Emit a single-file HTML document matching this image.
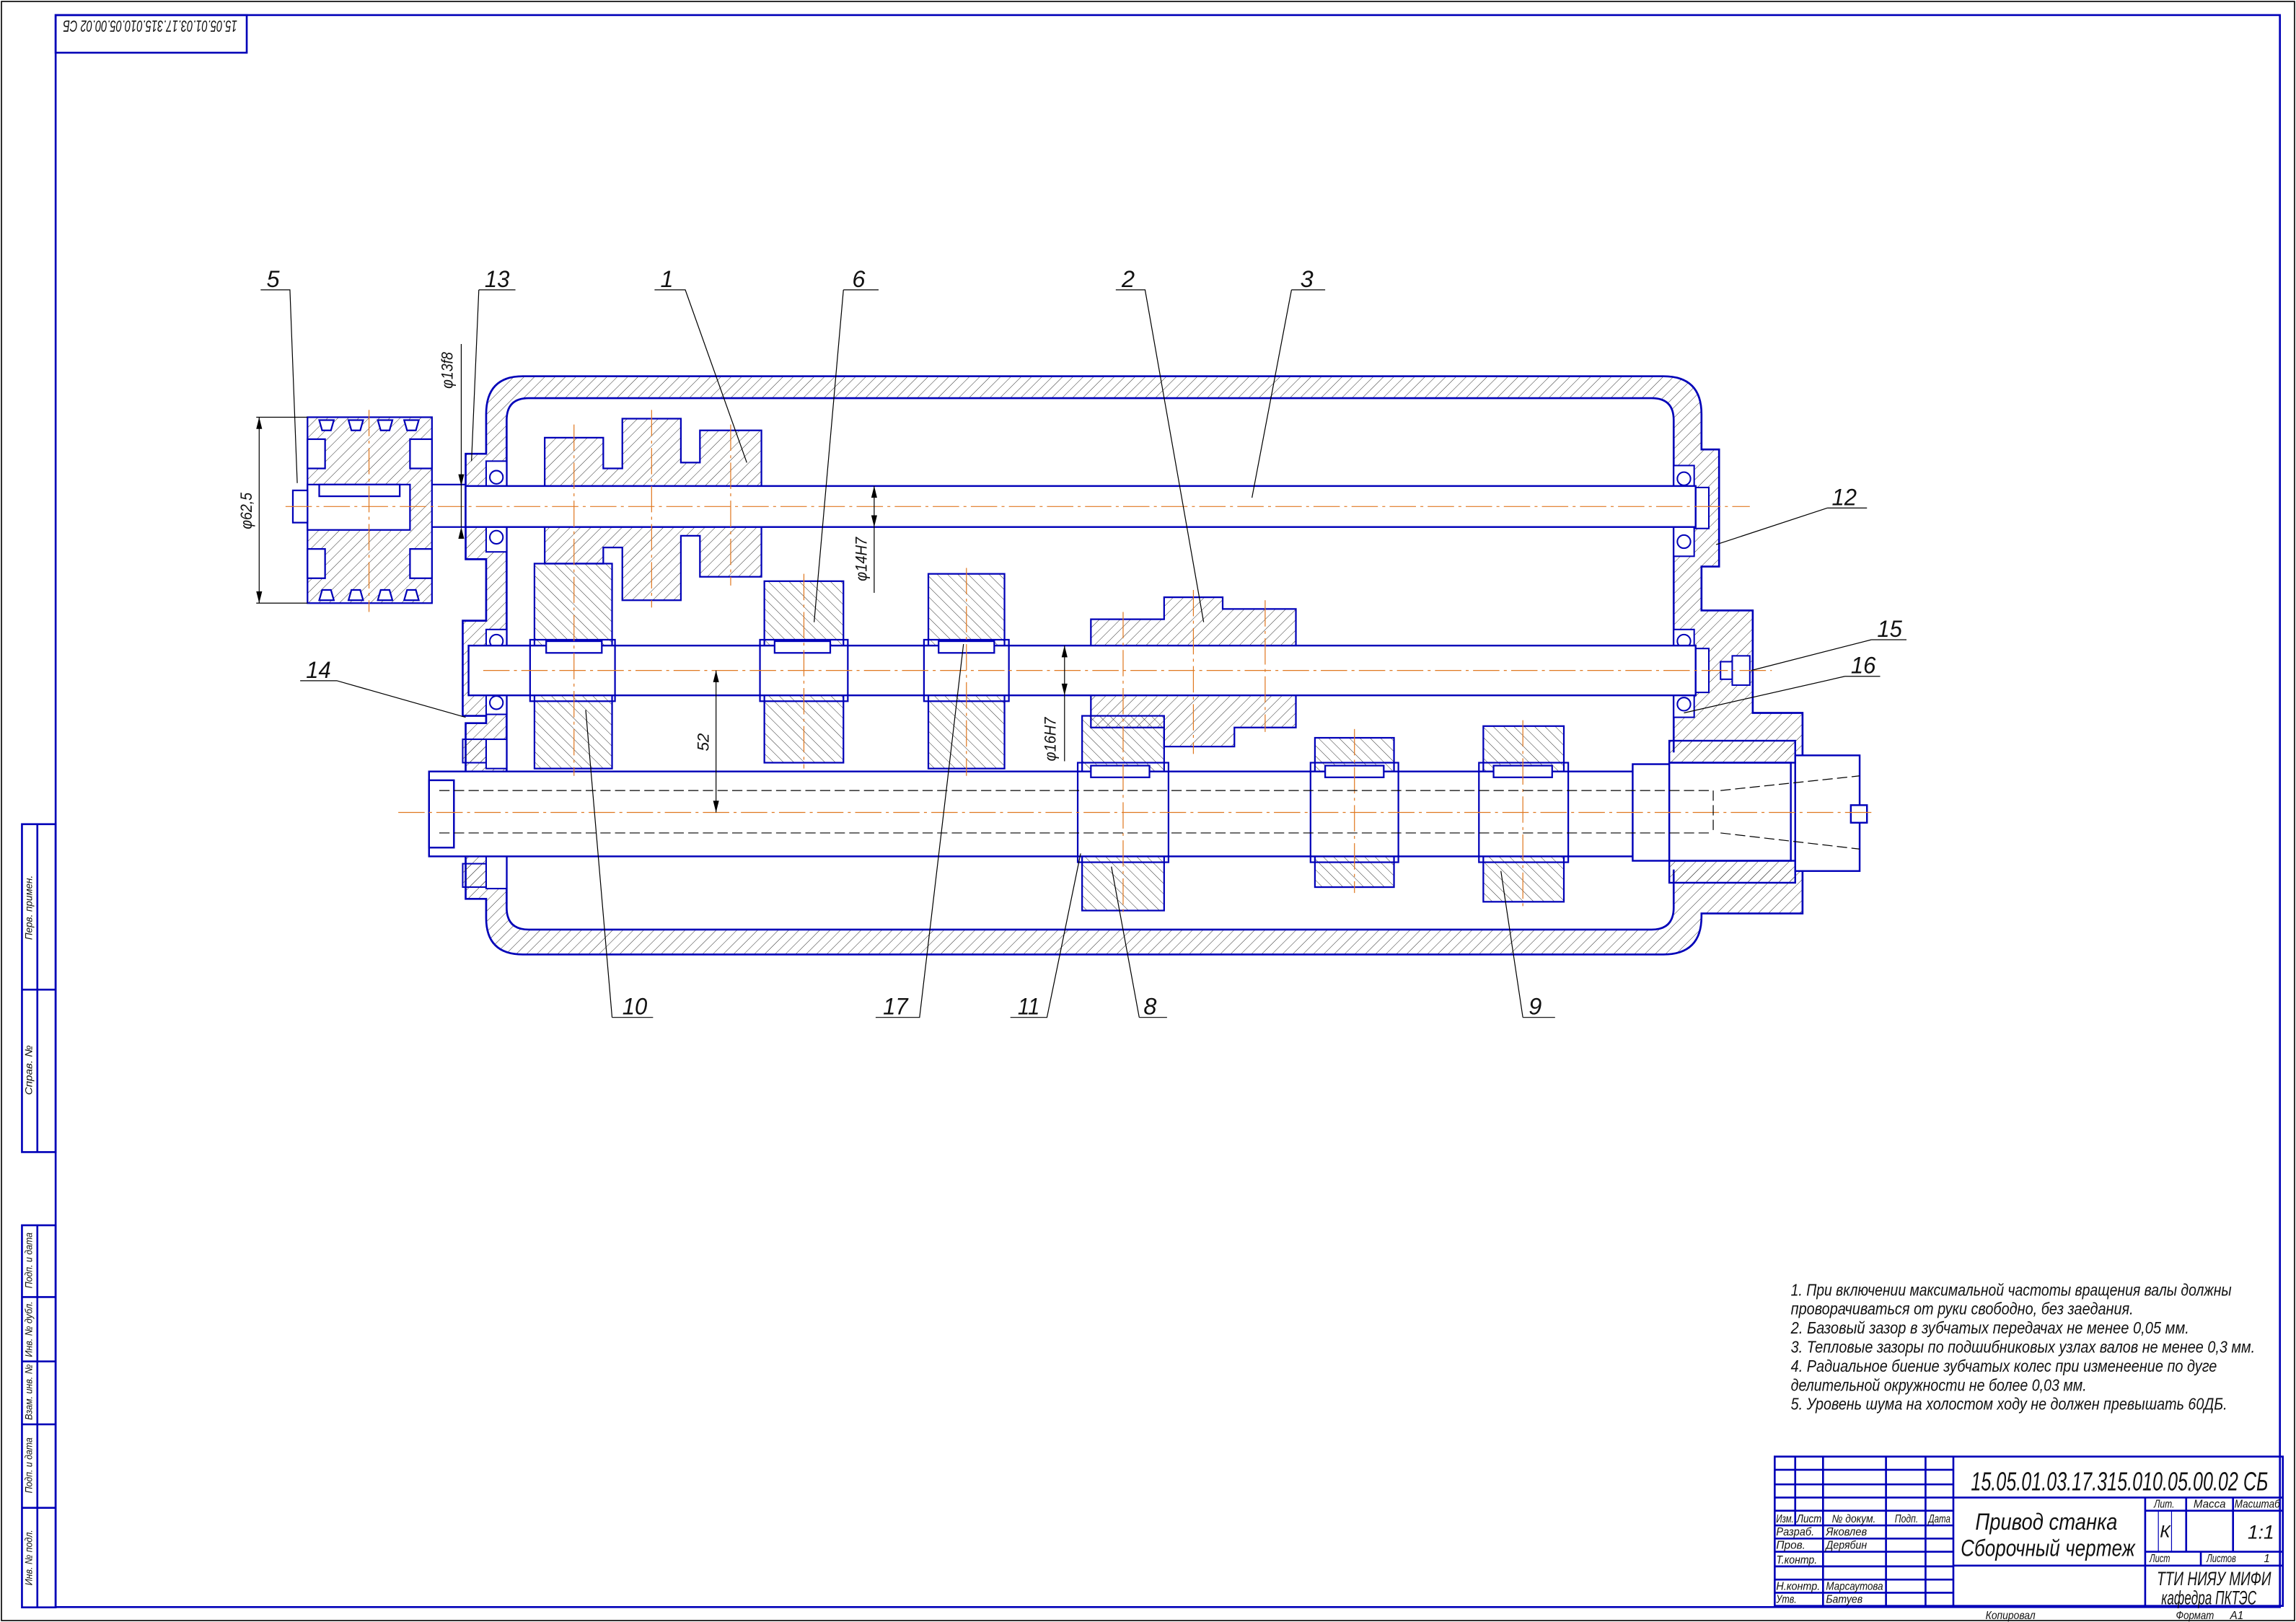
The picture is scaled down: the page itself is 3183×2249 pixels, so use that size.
<!DOCTYPE html>
<html><head><meta charset="utf-8"><style>
html,body{margin:0;padding:0;background:#fff;}
svg{display:block;}
text{font-family:"Liberation Sans Narrow","Liberation Sans","DejaVu Sans",sans-serif;font-style:italic;fill:#111;}
</style></head><body>
<svg width="3183" height="2249" viewBox="0 0 1568 1108" preserveAspectRatio="none" xmlns="http://www.w3.org/2000/svg">
<defs>
<pattern id="h" patternUnits="userSpaceOnUse" width="5" height="5" patternTransform="rotate(45)"><line x1="0" y1="0" x2="0" y2="5" stroke="#333" stroke-width="0.5"/></pattern>
<pattern id="h2" patternUnits="userSpaceOnUse" width="5" height="5" patternTransform="rotate(-45)"><line x1="0" y1="0" x2="0" y2="5" stroke="#333" stroke-width="0.5"/></pattern>
</defs>
<rect x="0" y="0" width="1568" height="1108" fill="#fff"/>
<rect x="1" y="1" width="1566" height="1106" fill="none" stroke="#000" stroke-width="0.8"/>
<g fill="none" stroke="#0000b8" stroke-width="1.3">
<rect x="38" y="10.3" width="1519" height="1087.5"/>
<rect x="38" y="10.3" width="130.5" height="25.7"/>
<rect x="15" y="563" width="23" height="224"/>
<line x1="25.5" y1="563" x2="25.5" y2="787"/><line x1="15" y1="676" x2="38" y2="676"/>
<rect x="15" y="837" width="23" height="261"/>
<line x1="25.5" y1="837" x2="25.5" y2="1098"/>
<line x1="15" y1="886" x2="38" y2="886"/><line x1="15" y1="930" x2="38" y2="930"/><line x1="15" y1="973" x2="38" y2="973"/><line x1="15" y1="1030" x2="38" y2="1030"/>
</g>
<text transform="translate(102.5,18) rotate(180)" x="0" y="4" font-size="11" text-anchor="middle" textLength="119" lengthAdjust="spacingAndGlyphs">15.05.01.03.17.315.010.05.00.02 СБ</text>
<g font-size="7">
<text transform="translate(22,620) rotate(-90)" text-anchor="middle" textLength="44" lengthAdjust="spacingAndGlyphs">Перв. примен.</text>
<text transform="translate(22,731) rotate(-90)" text-anchor="middle" textLength="34" lengthAdjust="spacingAndGlyphs">Справ. №</text>
<text transform="translate(22,861) rotate(-90)" text-anchor="middle" textLength="38" lengthAdjust="spacingAndGlyphs">Подп. и дата</text>
<text transform="translate(22,908) rotate(-90)" text-anchor="middle" textLength="38" lengthAdjust="spacingAndGlyphs">Инв. № дубл.</text>
<text transform="translate(22,951) rotate(-90)" text-anchor="middle" textLength="38" lengthAdjust="spacingAndGlyphs">Взам. инв. №</text>
<text transform="translate(22,1001) rotate(-90)" text-anchor="middle" textLength="38" lengthAdjust="spacingAndGlyphs">Подп. и дата</text>
<text transform="translate(22,1064) rotate(-90)" text-anchor="middle" textLength="38" lengthAdjust="spacingAndGlyphs">Инв. № подл.</text>
</g>

<path fill-rule="evenodd" fill="url(#h)" stroke="#0000b8" stroke-width="1.3" d="M357,257 H1136 Q1162,257 1162,283 V307 H1174 V387 H1162 V417 H1197 V487 H1231 V624 H1162 V626 Q1162,652 1136,652 H357 Q332,652 332,627 V614 H318 V494 H332 V489 H316 V424 H332 V382 H318 V310 H332 V283 Q332,257 357,257 Z M361,272 Q346,272 346,287 V620 Q346,635 361,635 H1128 Q1143,635 1143,620 V287 Q1143,272 1128,272 Z"/>
<rect x="1140" y="514" width="90" height="80" fill="#fff" stroke="none"/>
<g stroke="#0000b8" stroke-width="1" fill="#fff">
<rect x="332" y="315" width="14" height="62"/>
<circle cx="339" cy="326" r="4.5"/><circle cx="339" cy="367" r="4.5"/>
<rect x="1143" y="318" width="14" height="62"/>
<circle cx="1150" cy="327" r="4.5"/><circle cx="1150" cy="370" r="4.5"/>
<rect x="1157" y="333" width="10" height="28"/>
<rect x="332" y="430" width="14" height="58"/>
<circle cx="339" cy="438" r="4.5"/><circle cx="339" cy="480" r="4.5"/>
<rect x="326" y="443" width="10" height="30"/>
<rect x="1143" y="430" width="14" height="60"/>
<circle cx="1150" cy="438" r="4.5"/><circle cx="1150" cy="481" r="4.5"/>
<rect x="1157" y="443" width="10" height="30"/>
<rect x="1175" y="452" width="8" height="12"/><rect x="1183" y="448" width="12" height="20"/>
<rect x="332" y="505" width="14" height="20"/><rect x="332" y="585" width="14" height="22"/>
<rect x="316" y="505" width="16" height="16" fill="url(#h)"/><rect x="316" y="590" width="16" height="16" fill="url(#h)"/>
</g>

<g stroke="#0000b8" stroke-width="1.1">
<path fill="url(#h)" d="M372,299 H412 V320 H425 V286 H465 V316 H478 V294 H520 V394 H478 V366 H465 V410 H425 V374 H412 V385 H372 Z"/>
<rect x="365" y="385" width="53" height="140" fill="url(#h2)"/>
<rect x="522" y="397" width="54" height="124" fill="url(#h2)"/>
<rect x="634" y="392" width="52" height="133" fill="url(#h2)"/>
<path fill="url(#h)" d="M745,423 H795 V408 H835 V416 H843 H885 V497 H843 V510 H795 V497 H745 Z"/>
<rect x="739" y="489" width="56" height="133" fill="url(#h2)"/>
<rect x="898" y="504" width="54" height="102" fill="url(#h2)"/>
<rect x="1013" y="496" width="55" height="120" fill="url(#h2)"/>
</g>
<g stroke="#0000b8" stroke-width="1.2" fill="#fff">
<rect x="318" y="332" width="840" height="28"/>
<rect x="320" y="441" width="838" height="34"/>
<rect x="293" y="527" width="824" height="58"/>
<rect x="1115" y="522" width="25" height="66"/>
<rect x="1140" y="521" width="83" height="67"/>
<rect x="1226" y="516" width="44" height="79"/>
<rect x="1264" y="550" width="11" height="12"/>
<rect x="1140" y="506" width="86" height="15" fill="url(#h)"/>
<rect x="1140" y="588" width="86" height="15" fill="url(#h)"/>
<rect x="293" y="533" width="17" height="46"/>
</g>
<g stroke="#0000b8" stroke-width="1.1" fill="#fff">
<rect x="362" y="437" width="58" height="42" fill="none"/>
<rect x="373" y="438" width="38" height="8"/>
<rect x="519" y="437" width="60" height="42" fill="none"/>
<rect x="529" y="438" width="38" height="8"/>
<rect x="631" y="437" width="58" height="42" fill="none"/>
<rect x="641" y="438" width="38" height="8"/>
<rect x="736" y="521" width="62" height="68" fill="none"/>
<rect x="745" y="523" width="40" height="8"/>
<rect x="895" y="521" width="60" height="68" fill="none"/>
<rect x="905" y="523" width="40" height="8"/>
<rect x="1010" y="521" width="61" height="68" fill="none"/>
<rect x="1020" y="523" width="40" height="8"/>
</g>
<g stroke="#0000b8" stroke-width="1.1">
<rect x="210" y="285" width="85" height="127" fill="url(#h)"/>
<rect x="210" y="300" width="12" height="20" fill="#fff"/><rect x="280" y="300" width="15" height="20" fill="#fff"/>
<rect x="210" y="375" width="12" height="20" fill="#fff"/><rect x="280" y="375" width="15" height="20" fill="#fff"/>
<rect x="210" y="331" width="70" height="31" fill="#fff"/>
<rect x="200" y="335" width="10" height="22" fill="#fff"/>
<rect x="218" y="331" width="55" height="8" fill="#fff"/>
<g fill="#fff"><path d="M218,287 h10 l-2,7 h-6z"/><path d="M238,287 h10 l-2,7 h-6z"/><path d="M258,287 h10 l-2,7 h-6z"/><path d="M276,287 h10 l-2,7 h-6z"/>
<path d="M218,410 h10 l-2,-7 h-6z"/><path d="M238,410 h10 l-2,-7 h-6z"/><path d="M258,410 h10 l-2,-7 h-6z"/><path d="M276,410 h10 l-2,-7 h-6z"/></g>
<line x1="295" y1="331" x2="318" y2="331"/><line x1="295" y1="360" x2="318" y2="360"/>
</g>
<g stroke="#e07820" stroke-width="0.6" stroke-dasharray="18,3,2,3" fill="none">
<line x1="195" y1="346" x2="1195" y2="346"/>
<line x1="330" y1="458" x2="1210" y2="458"/>
<line x1="272" y1="555" x2="1280" y2="555"/>
<line x1="252" y1="280" x2="252" y2="418"/>
<line x1="392" y1="290" x2="392" y2="530"/><line x1="445" y1="280" x2="445" y2="415"/><line x1="499" y1="290" x2="499" y2="400"/>
<line x1="549" y1="392" x2="549" y2="525"/><line x1="660" y1="388" x2="660" y2="530"/>
<line x1="767" y1="418" x2="767" y2="625"/><line x1="815" y1="403" x2="815" y2="515"/><line x1="864" y1="410" x2="864" y2="500"/>
<line x1="925" y1="498" x2="925" y2="610"/><line x1="1040" y1="492" x2="1040" y2="620"/>
</g>
<g stroke="#000" stroke-width="0.6" stroke-dasharray="7,3" fill="none">
<line x1="300" y1="540" x2="1170" y2="540"/><line x1="300" y1="569" x2="1170" y2="569"/>
<line x1="1170" y1="540" x2="1170" y2="569"/>
<line x1="1175" y1="540" x2="1270" y2="530"/><line x1="1175" y1="569" x2="1270" y2="580"/>
</g>
<g stroke="#000" stroke-width="0.6" fill="none">
<line x1="175" y1="285" x2="210" y2="285"/><line x1="175" y1="412" x2="210" y2="412"/>
<line x1="177" y1="285" x2="177" y2="412"/>
<line x1="315" y1="235" x2="315" y2="360"/>
<line x1="597" y1="332" x2="597" y2="405"/>
<line x1="727" y1="441" x2="727" y2="520"/>
<line x1="489" y1="458" x2="489" y2="555"/>
</g>
<g fill="#000">
<path d="M177,285 l-2,8 h4z"/><path d="M177,412 l-2,-8 h4z"/>
<path d="M315,332 l-2,-8 h4z"/><path d="M315,360 l-2,8 h4z"/>
<path d="M597,332 l-2,8 h4z"/><path d="M597,360 l-2,-8 h4z"/>
<path d="M727,441 l-2,8 h4z"/><path d="M727,475 l-2,-8 h4z"/>
<path d="M489,458 l-2,8 h4z"/><path d="M489,555 l-2,-8 h4z"/>
</g>
<g font-size="11">
<text transform="translate(172,349) rotate(-90)" text-anchor="middle" textLength="25" lengthAdjust="spacingAndGlyphs">φ62,5</text>
<text transform="translate(309,253) rotate(-90)" text-anchor="middle" textLength="25" lengthAdjust="spacingAndGlyphs">φ13f8</text>
<text transform="translate(592,382) rotate(-90)" text-anchor="middle" textLength="30" lengthAdjust="spacingAndGlyphs">φ14H7</text>
<text transform="translate(721,505) rotate(-90)" text-anchor="middle" textLength="30" lengthAdjust="spacingAndGlyphs">φ16H7</text>
<text transform="translate(484,507) rotate(-90)" text-anchor="middle">52</text>
</g>
<g stroke="#000" stroke-width="0.6" fill="none">
<path d="M178,198 H198 L203,330"/>
<path d="M327,198 H352 M327,198 L322,315"/>
<path d="M447,198 H468 L510,316"/>
<path d="M576,198 H600 M576,198 L556,425"/>
<path d="M762,198 H782 L822,425"/>
<path d="M882,198 H905 M882,198 L855,340"/>
<path d="M1248,347 H1275 M1248,347 L1172,372"/>
<path d="M1278,437 H1302 M1278,437 L1196,458"/>
<path d="M1260,462 H1284 M1260,462 L1150,487"/>
<path d="M205,465 H230 L318,490"/>
<path d="M418,695 H446 M418,695 L400,485"/>
<path d="M598,695 H628 L658,440"/>
<path d="M690,695 H715 L738,583"/>
<path d="M778,695 H797 M778,695 L759,592"/>
<path d="M1040,695 H1062 M1040,695 L1025,595"/>
</g>
<g font-size="16">
<text x="182" y="196">5</text><text x="331" y="196" textLength="17" lengthAdjust="spacingAndGlyphs">13</text><text x="451" y="196">1</text><text x="582" y="196">6</text>
<text x="766" y="196">2</text><text x="888" y="196">3</text><text x="1251" y="345" textLength="17" lengthAdjust="spacingAndGlyphs">12</text><text x="1282" y="435" textLength="17" lengthAdjust="spacingAndGlyphs">15</text>
<text x="1264" y="460" textLength="17" lengthAdjust="spacingAndGlyphs">16</text><text x="209" y="463" textLength="17" lengthAdjust="spacingAndGlyphs">14</text><text x="425" y="693" textLength="17" lengthAdjust="spacingAndGlyphs">10</text><text x="603" y="693" textLength="17" lengthAdjust="spacingAndGlyphs">17</text>
<text x="695" y="693" textLength="15" lengthAdjust="spacingAndGlyphs">11</text><text x="781" y="693">8</text><text x="1044" y="693">9</text>
</g>
<g font-size="11.5" lengthAdjust="spacingAndGlyphs">
<text x="1223" y="885" textLength="301" lengthAdjust="spacingAndGlyphs">1. При включении максимальной частоты вращения валы должны</text>
<text x="1223" y="898" textLength="234" lengthAdjust="spacingAndGlyphs">проворачиваться от руки свободно, без заедания.</text>
<text x="1223" y="911" textLength="272" lengthAdjust="spacingAndGlyphs">2. Базовый зазор в зубчатых передачах не менее 0,05 мм.</text>
<text x="1223" y="924" textLength="317" lengthAdjust="spacingAndGlyphs">3. Тепловые зазоры по подшибниковых узлах валов не менее 0,3 мм.</text>
<text x="1223" y="937" textLength="291" lengthAdjust="spacingAndGlyphs">4. Радиальное биение зубчатых колес при изменеение по дуге</text>
<text x="1223" y="950" textLength="202" lengthAdjust="spacingAndGlyphs">делительной окружности не более 0,03 мм.</text>
<text x="1223" y="963" textLength="298" lengthAdjust="spacingAndGlyphs">5. Уровень шума на холостом ходу не должен превышать 60ДБ.</text>
</g>
<g fill="none" stroke="#0000b8" stroke-width="1.3">
<rect x="1212" y="995" width="347" height="102"/>
<line x1="1226" y1="995" x2="1226" y2="1042"/><line x1="1245" y1="995" x2="1245" y2="1097"/>
<line x1="1288" y1="995" x2="1288" y2="1097"/><line x1="1315" y1="995" x2="1315" y2="1097"/><line x1="1334" y1="995" x2="1334" y2="1097"/>
<line x1="1212" y1="1004" x2="1334" y2="1004"/><line x1="1212" y1="1014" x2="1334" y2="1014"/><line x1="1212" y1="1023" x2="1334" y2="1023"/>
<line x1="1212" y1="1032" x2="1334" y2="1032"/><line x1="1212" y1="1042" x2="1334" y2="1042"/><line x1="1212" y1="1051" x2="1334" y2="1051"/>
<line x1="1212" y1="1060" x2="1334" y2="1060"/><line x1="1212" y1="1070" x2="1334" y2="1070"/><line x1="1212" y1="1079" x2="1334" y2="1079"/>
<line x1="1212" y1="1088" x2="1334" y2="1088"/>
<line x1="1334" y1="1023" x2="1559" y2="1023"/><line x1="1334" y1="1069.5" x2="1559" y2="1069.5"/>
<line x1="1465" y1="1023" x2="1465" y2="1097"/>
<line x1="1465" y1="1032" x2="1559" y2="1032"/><line x1="1465" y1="1060" x2="1559" y2="1060"/>
<line x1="1493" y1="1023" x2="1493" y2="1060"/><line x1="1525" y1="1023" x2="1525" y2="1060"/>
<line x1="1503" y1="1060" x2="1503" y2="1069.5"/>
</g>
<g stroke="#0000b8" stroke-width="0.6"><line x1="1474" y1="1032" x2="1474" y2="1060"/><line x1="1483" y1="1032" x2="1483" y2="1060"/></g>
<g font-size="7.5">
<text x="1213" y="1040" textLength="12" lengthAdjust="spacingAndGlyphs">Изм.</text><text x="1227" y="1040" textLength="17" lengthAdjust="spacingAndGlyphs">Лист</text><text x="1251" y="1040" textLength="30" lengthAdjust="spacingAndGlyphs">№ докум.</text><text x="1294" y="1040" textLength="16" lengthAdjust="spacingAndGlyphs">Подп.</text><text x="1317" y="1040" textLength="15" lengthAdjust="spacingAndGlyphs">Дата</text>
<text x="1213" y="1049" textLength="26" lengthAdjust="spacingAndGlyphs">Разраб.</text><text x="1247" y="1049" textLength="28" lengthAdjust="spacingAndGlyphs">Яковлев</text>
<text x="1213" y="1058" textLength="20" lengthAdjust="spacingAndGlyphs">Пров.</text><text x="1247" y="1058" textLength="28" lengthAdjust="spacingAndGlyphs">Дерябин</text>
<text x="1213" y="1068" textLength="28" lengthAdjust="spacingAndGlyphs">Т.контр.</text>
<text x="1213" y="1086" textLength="30" lengthAdjust="spacingAndGlyphs">Н.контр.</text><text x="1247" y="1086" textLength="39" lengthAdjust="spacingAndGlyphs">Марсаутова</text>
<text x="1213" y="1095" textLength="14" lengthAdjust="spacingAndGlyphs">Утв.</text><text x="1247" y="1095" textLength="25" lengthAdjust="spacingAndGlyphs">Батуев</text>
<text x="1471" y="1030" textLength="14" lengthAdjust="spacingAndGlyphs">Лит.</text><text x="1498" y="1030" textLength="22" lengthAdjust="spacingAndGlyphs">Масса</text><text x="1526" y="1030" textLength="31" lengthAdjust="spacingAndGlyphs">Масштаб</text>
<text x="1468" y="1067" textLength="14" lengthAdjust="spacingAndGlyphs">Лист</text><text x="1507" y="1067" textLength="20" lengthAdjust="spacingAndGlyphs">Листов</text><text x="1546" y="1067">1</text>
<text x="1356" y="1106" textLength="34" lengthAdjust="spacingAndGlyphs">Копировал</text><text x="1486" y="1106" textLength="26" lengthAdjust="spacingAndGlyphs">Формат</text><text x="1523" y="1106">А1</text>
</g>
<text x="1475" y="1050" font-size="12">К</text>
<text x="1535" y="1051" font-size="13">1:1</text>
<text x="1346" y="1018" font-size="18" textLength="203" lengthAdjust="spacingAndGlyphs">15.05.01.03.17.315.010.05.00.02 СБ</text>
<text x="1349" y="1045" font-size="16" textLength="97" lengthAdjust="spacingAndGlyphs">Привод станка</text>
<text x="1339" y="1063" font-size="16" textLength="119" lengthAdjust="spacingAndGlyphs">Сборочный чертеж</text>
<text x="1473" y="1083" font-size="13" textLength="78" lengthAdjust="spacingAndGlyphs">ТТИ НИЯУ МИФИ</text>
<text x="1476" y="1096" font-size="13" textLength="65" lengthAdjust="spacingAndGlyphs">кафедра ПКТЭС</text>
</svg>
</body></html>
